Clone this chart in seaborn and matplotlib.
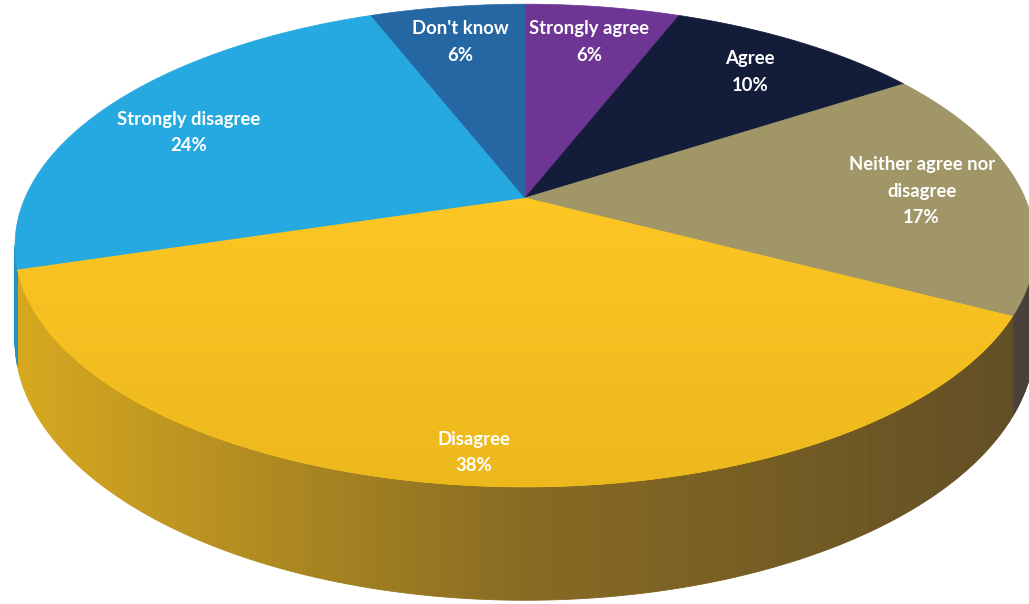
import numpy as np
import matplotlib
matplotlib.use("Agg")
import matplotlib.pyplot as plt
import seaborn as sns
from matplotlib.colors import to_rgb
from matplotlib.patches import Polygon

# ---- data ----
categories = ["Strongly agree", "Agree", "Neither agree nor\ndisagree", "Disagree",
              "Strongly disagree", "Don't know"]
values = [6, 10, 17, 38, 24, 6]
pct_labels = ["6%", "10%", "17%", "38%", "24%", "6%"]
colors = ["#6E3594", "#131D3A", "#A09668", "#F9C31C", "#26A9E0", "#2467A3"]

sns.set_theme(style="white")
plt.rcParams['font.family'] = ['Lato', 'DejaVu Sans']

W, H = 1029, 604
fig = plt.figure(figsize=(W / 100, H / 100), dpi=100)
ax = fig.add_axes([0, 0, 1, 1])
ax.set_xlim(0, W)
ax.set_ylim(H, 0)
ax.axis('off')

# perspective geometry (style / layout)
CX, CY = 525, 198
A, B, K = 500, 232, 0.197
DEPTH = 91
DARK = np.array([40, 33, 40]) / 255.0


def proj(theta_deg, r=1.0):
    t = np.radians(theta_deg)
    u = r * np.cos(t)
    v = r * np.sin(t)
    s = 1 + K * v
    return CX + A * u / s, CY - B * v / s


def depth_at(theta_deg):
    v = np.sin(np.radians(theta_deg))
    return DEPTH / (1 + K * v)


def wall_color(base, x):
    f = np.clip((x - 12) / (1029 - 12), 0, 1)
    a = np.interp(f, [0.0, 0.5, 1.0], [0.84, 0.46, 0.27])
    return tuple(np.array(to_rgb(base)) * a + DARK * (1 - a))


fracs = np.array(values, dtype=float) / sum(values)
bounds = 90 - 360 * np.concatenate([[0], np.cumsum(fracs)])

left_ext = -180 + np.degrees(np.arcsin(K))
right_ext = -np.degrees(np.arcsin(K))

# ---- side walls ----
for i in range(len(values)):
    hi, lo = bounds[i], bounds[i + 1]
    a0, a1 = max(lo, left_ext), min(hi, right_ext)
    if a1 <= a0:
        continue
    n = max(2, int((a1 - a0) / 0.4))
    th = np.linspace(a0, a1, n + 1)
    for j in range(n):
        x1, y1 = proj(th[j])
        x2, y2 = proj(th[j + 1])
        d1, d2 = depth_at(th[j]), depth_at(th[j + 1])
        c = wall_color(colors[i], 0.5 * (x1 + x2))
        poly = Polygon([(x1, y1), (x2, y2), (x2, y2 + d2), (x1, y1 + d1)],
                       closed=True, facecolor=c, edgecolor=c, linewidth=0.6)
        ax.add_patch(poly)

# ---- top face ----
for i in range(len(values)):
    hi, lo = bounds[i], bounds[i + 1]
    th = np.linspace(hi, lo, 200)
    xs, ys = proj(th)
    pts = np.column_stack([np.r_[CX, xs], np.r_[CY, ys]])
    poly = Polygon(pts, closed=True, facecolor=colors[i], edgecolor=colors[i],
                   linewidth=0.5)
    ax.add_patch(poly)
    if categories[i] == "Disagree":
        grad = np.linspace(0, 1, 256)[:, None, None]
        top = np.array([253, 199, 36]) / 255.0
        bot = np.array([236, 184, 28]) / 255.0
        img = top * (1 - grad) + bot * grad
        im = ax.imshow(np.repeat(img, 2, axis=1), extent=(0, W, 490, 190),
                       aspect='auto', zorder=2)
        im.set_clip_path(poly)

# ---- labels ----
for i in range(len(values)):
    mid = 0.5 * (bounds[i] + bounds[i + 1])
    r = 0.9 if categories[i] == "Disagree" else 0.8
    x, y = proj(mid, r)
    if categories[i] == "Strongly disagree":
        y += 8
    ax.text(x, y + 2, categories[i] + "\n" + pct_labels[i], color="white",
            fontsize=13.3, fontweight="bold", ha="center", va="center",
            linespacing=1.68, zorder=5)

ax.set_xlim(0, W)
ax.set_ylim(H, 0)
fig.savefig("out.png", dpi=100, facecolor="white")
